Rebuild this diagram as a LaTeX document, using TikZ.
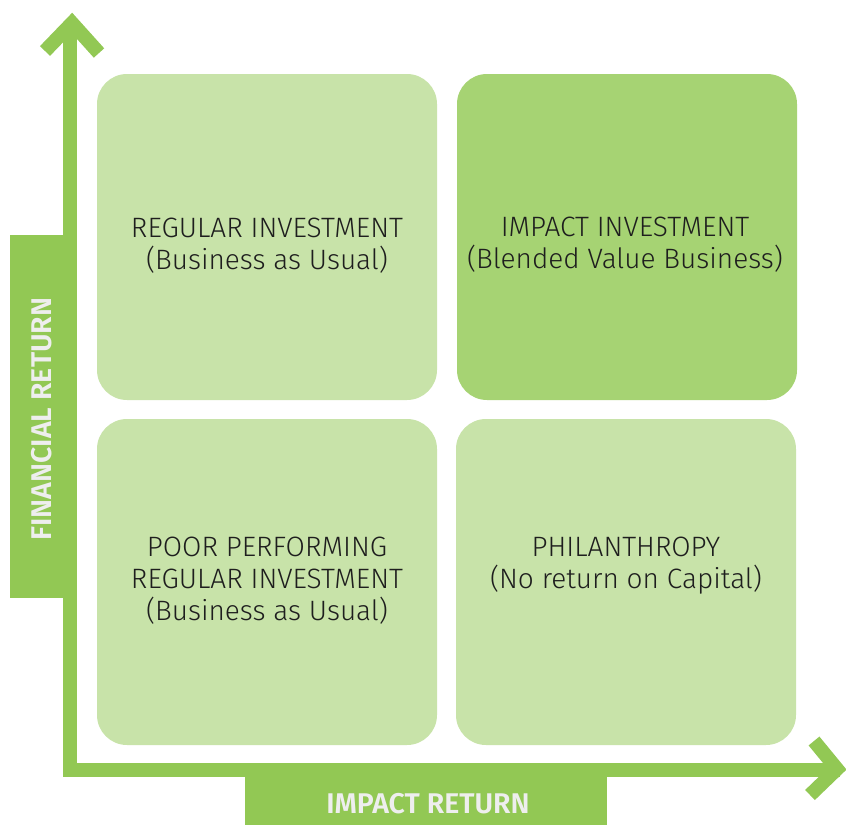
\documentclass[tikz,border=0pt]{standalone}
\usepackage{fontspec}
\setmainfont{Fira Sans}[UprightFont=* Light, BoldFont=* SemiBold]
\definecolor{axisgreen}{HTML}{92C854}
\definecolor{lightbox}{HTML}{C8E3A9}
\definecolor{darkbox}{HTML}{A6D373}
\definecolor{labeltext}{HTML}{EEEEEE}
\definecolor{quadtext}{HTML}{1E1E1E}
\begin{document}
\begin{tikzpicture}[x=1pt,y=-1pt,
  quad/.style={rounded corners=30pt, minimum width=340pt, minimum height=326pt, inner sep=0pt, draw=none},
  qtext/.style={text=quadtext, align=center, anchor=base, inner sep=0pt, font=\fontsize{28}{31.7}\selectfont},
  axisline/.style={draw=axisgreen, line width=14pt, miter limit=10},
  labelbox/.style={fill=axisgreen, draw=none, inner sep=0pt},
  labeltxt/.style={text=labeltext, inner sep=0pt, font=\bfseries\fontsize{28.5}{30}\selectfont}]
\useasboundingbox (0,0) rectangle (846,825);
% quadrants
\node[quad, fill=lightbox] (tl) at (267,237) {};
\node[quad, fill=darkbox]  (tr) at (627,237) {};
\node[quad, fill=lightbox] (bl) at (267,582) {};
\node[quad, fill=lightbox] (br) at (626,582) {};
\node[qtext] (tlt) at (267,269) {REGULAR INVESTMENT\\(Business as Usual)};
\node[qtext] (trt) at (625,268) {IMPACT INVESTMENT\\(Blended Value Business)};
\node[qtext] (blt) at (267,620) {POOR PERFORMING\\REGULAR INVESTMENT\\(Business as Usual)};
\node[qtext] (brt) at (626,588) {PHILANTHROPY\\(No return on Capital)};
% axes
\coordinate (ytop) at (70,33);
\coordinate (origin) at (70,770);
\coordinate (xend) at (840,770);
\draw[axisline] (ytop) -- (origin) -- (xend);
\coordinate (yl) at (45,51);
\coordinate (ya) at (72,23);
\coordinate (yr) at (99,53);
\draw[axisline] (yl) -- (ya) -- (yr);
\coordinate (xu) at (814,741);
\coordinate (xa) at (837,769);
\coordinate (xd) at (810,795);
\draw[axisline] (xu) -- (xa) -- (xd);
% axis labels
\node[labelbox, minimum width=54pt, minimum height=363pt] (fbox) at (37,416.5) {};
\node[labelbox, minimum width=362pt, minimum height=48pt] (ibox) at (426,801) {};
\node[labeltxt, rotate=90] (ftxt) at (42,419) {FINANCIAL RETURN};
\node[labeltxt] (itxt) at (428,803.5) {IMPACT RETURN};
\end{tikzpicture}
\end{document}
